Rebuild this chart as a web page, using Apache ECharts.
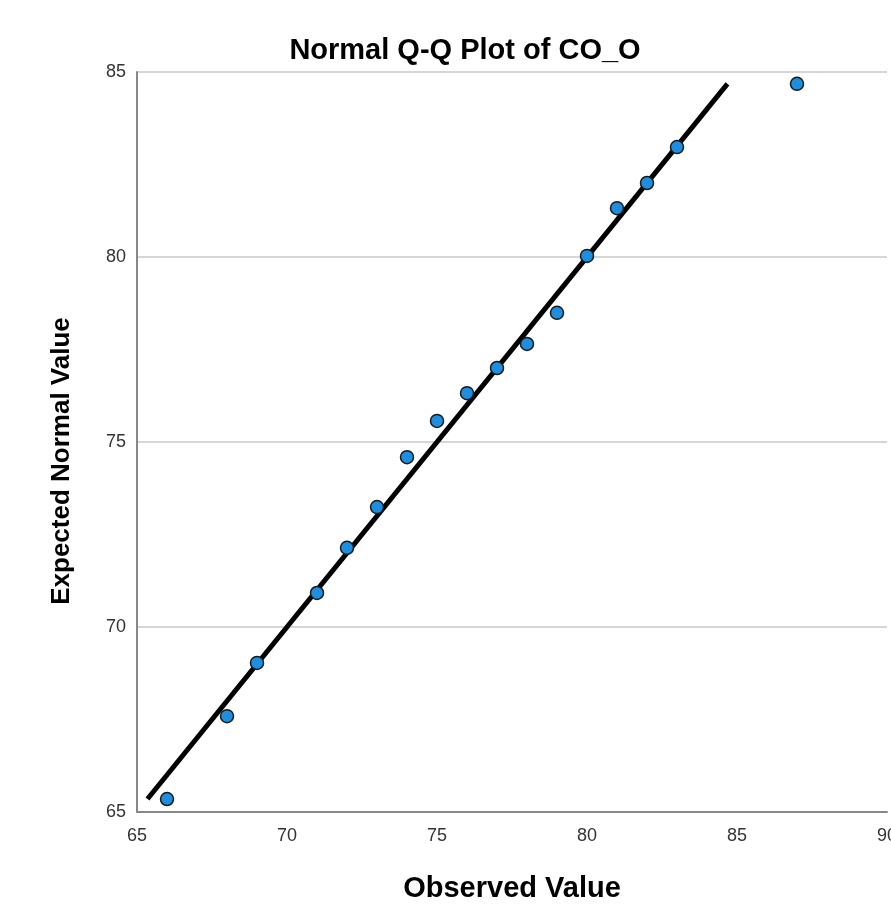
<!DOCTYPE html>
<html>
<head>
<meta charset="utf-8">
<script src="https://cdn.jsdelivr.net/npm/echarts@6/dist/echarts.min.js"></script>
<style>html,body{margin:0;padding:0;background:#fff;}#c{width:891px;height:908px;}</style>
</head>
<body>
<div id="c"></div>
<script>
const observed = [66, 68, 69, 71, 72, 73, 74, 75, 76, 77, 78, 79, 80, 81, 82, 83, 87];
const expected = [65.35, 67.59, 69.03, 70.92, 72.14, 73.24, 74.59, 75.57, 76.32, 77.0, 77.65, 78.49, 80.03, 81.32, 82.0, 82.97, 84.68];
const refLine = [65.35, 84.68];
const xTicks = [65, 70, 75, 80, 85, 90];
const yTicks = [65, 70, 75, 80, 85];

const chart = echarts.init(document.getElementById('c'), null, {renderer: 'canvas'});
const font = 'Liberation Sans, Arial, sans-serif';
chart.setOption({
  animation: false,
  backgroundColor: '#fff',
  title: {
    text: 'Normal Q-Q Plot of CO_O',
    left: 460, top: 31, textAlign: 'center',
    textStyle: {fontFamily: font, fontSize: 29, fontWeight: 'bold', color: '#000'}
  },
  grid: {left: 137, right: 4, top: 72, bottom: 96, containLabel: false, outerBoundsMode: 'none'},
  xAxis: {
    type: 'value', min: xTicks[0], max: xTicks[xTicks.length-1], interval: 5,
    name: 'Observed Value', nameLocation: 'middle', nameGap: 62,
    nameTextStyle: {fontFamily: font, fontSize: 29, fontWeight: 'bold', color: '#000'},
    axisLine: {show: true, lineStyle: {color: '#888', width: 2}},
    axisTick: {show: false},
    splitLine: {show: false},
    axisLabel: {fontFamily: font, fontSize: 18, color: '#333', margin: 15, hideOverlap: false, showMaxLabel: true}
  },
  yAxis: {
    type: 'value', min: yTicks[0], max: yTicks[yTicks.length-1], interval: 5,
    name: 'Expected Normal Value', nameLocation: 'middle', nameGap: 62,
    nameTextStyle: {fontFamily: font, fontSize: 26, fontWeight: 'bold', color: '#000', padding: [0, 38, 0, 0]},
    axisLine: {show: true, lineStyle: {color: '#888', width: 2}},
    axisTick: {show: false},
    splitLine: {show: true, lineStyle: {color: '#c8c8c8', width: 1.5}},
    axisLabel: {fontFamily: font, fontSize: 18, color: '#333', margin: 11, padding: [9, 0, 0, 0]}
  },
  series: [
    {
      type: 'line',
      data: refLine.map(v => [v, v]),
      symbol: 'none',
      lineStyle: {color: '#000', width: 5},
      z: 2
    },
    {
      type: 'scatter',
      data: observed.map((x, i) => [x, expected[i]]),
      symbol: 'circle', symbolSize: 13,
      itemStyle: {color: '#1e8fe0', borderColor: '#1a1a1a', borderWidth: 1.5, opacity: 1},
      z: 3
    }
  ]
});
</script>
</body>
</html>
